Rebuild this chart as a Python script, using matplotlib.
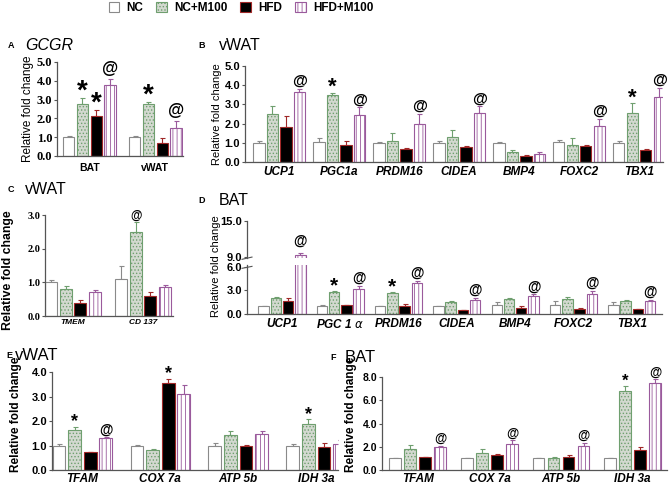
import numpy as np
import matplotlib
matplotlib.use('Agg')
import matplotlib.pyplot as plt
from matplotlib.patches import Patch

plt.rcParams['font.family'] = 'Liberation Sans'
plt.rcParams['hatch.linewidth'] = 0.6

series = ['NC', 'NC+M100', 'HFD', 'HFD+M100']
face = ['white', '#d3d9d0', 'black', 'white']
edge = ['#8a8a8a', '#6f9f6f', '#a02828', '#9a5a9c']
hatch = [None, '.....', None, '||||']

# A - GCGR
a_groups = ['BAT', 'vWAT']
a_mean = [[1.0, 1.0], [2.75, 2.75], [2.15, 0.7], [3.8, 1.5]]
a_err = [[0.05, 0.05], [0.35, 0.1], [0.3, 0.25], [0.3, 0.35]]
a_marks = [(0, 1, '*'), (0, 2, '*'), (0, 3, '@'), (1, 1, '*'), (1, 3, '@')]

# B - vWAT
b_groups = ['UCP1', 'PGC1a', 'PRDM16', 'CIDEA', 'BMP4', 'FOXC2', 'TBX1']
b_mean = [[1.0, 1.05, 1.0, 1.0, 1.0, 1.05, 1.0],
          [2.5, 3.5, 1.1, 1.3, 0.5, 0.9, 2.55],
          [1.8, 0.9, 0.7, 0.8, 0.3, 0.85, 0.6],
          [3.65, 2.45, 2.0, 2.55, 0.4, 1.85, 3.4]]
b_err = [[0.07, 0.2, 0.05, 0.1, 0.05, 0.1, 0.1],
         [0.4, 0.1, 0.4, 0.35, 0.15, 0.35, 0.5],
         [0.6, 0.2, 0.03, 0.03, 0.05, 0.03, 0.1],
         [0.15, 0.4, 0.5, 0.35, 0.1, 0.4, 0.45]]
b_marks = [(0, 3, '@'), (1, 1, '*'), (1, 3, '@'), (2, 3, '@'), (3, 3, '@'),
           (5, 3, '@'), (6, 1, '*'), (6, 3, '@')]

# C - vWAT
c_groups = ['TMEM', 'CD 137']
c_mean = [[1.0, 1.1], [0.8, 2.5], [0.4, 0.6], [0.7, 0.85]]
c_err = [[0.08, 0.38], [0.08, 0.28], [0.08, 0.1], [0.08, 0.08]]
c_marks = [(1, 1, '@')]

# D - BAT
d_groups = ['UCP1', r'PGC 1 $\alpha$', 'PRDM16', 'CIDEA', 'BMP4', 'FOXC2', 'TBX1']
d_mean = [[1.0, 1.0, 1.0, 1.0, 1.1, 1.2, 1.1],
          [2.0, 2.8, 2.7, 1.5, 1.9, 1.9, 1.6],
          [1.7, 1.1, 1.0, 0.5, 0.8, 0.7, 0.6],
          [9.3, 3.2, 3.9, 1.8, 2.3, 2.6, 1.6]]
d_err = [[0.05, 0.15, 0.05, 0.05, 0.4, 0.5, 0.4],
         [0.15, 0.1, 0.1, 0.1, 0.1, 0.3, 0.2],
         [0.3, 0.05, 0.3, 0.05, 0.2, 0.05, 0.05],
         [0.3, 0.4, 0.35, 0.3, 0.2, 0.3, 0.2]]
d_marks = [(1, 1, '*'), (1, 3, '@'), (2, 1, '*'), (2, 3, '@'), (3, 3, '@'),
           (4, 3, '@'), (5, 3, '@'), (6, 3, '@')]

# E - vWAT
e_groups = ['TFAM', 'COX 7a', 'ATP 5b', 'IDH 3a']
e_mean = [[1.0, 1.0, 1.0, 1.0], [1.65, 0.8, 1.42, 1.88],
          [0.72, 3.55, 1.0, 0.95], [1.3, 3.1, 1.48, 1.07]]
e_err = [[0.08, 0.03, 0.12, 0.08], [0.12, 0.07, 0.17, 0.2],
         [0.02, 0.18, 0.03, 0.15], [0.03, 0.35, 0.12, 0.17]]
e_marks = [(0, 1, '*'), (0, 3, '@'), (1, 2, '*'), (3, 1, '*')]

# F - BAT
f_groups = ['TFAM', 'COX 7a', 'ATP 5b', 'IDH 3a']
f_mean = [[1.0, 1.0, 1.0, 1.0], [1.8, 1.5, 1.0, 6.8],
          [1.1, 1.3, 1.15, 1.7], [1.95, 2.2, 2.05, 7.5]]
f_err = [[0.03, 0.05, 0.03, 0.03], [0.35, 0.3, 0.08, 0.45],
         [0.03, 0.08, 0.1, 0.3], [0.15, 0.35, 0.3, 0.3]]
f_marks = [(0, 3, '@'), (1, 3, '@'), (2, 3, '@'), (3, 1, '*'), (3, 3, '@')]

fig = plt.figure(figsize=(6.69, 4.86), dpi=100)


def px_axes(x0, x1, y0, y1):
    return fig.add_axes([x0 / 669, 1 - y1 / 486, (x1 - x0) / 669, (y1 - y0) / 486])


def style(ax, ticks, serif=False, tsize=8):
    for s in ['top', 'right']:
        ax.spines[s].set_visible(False)
    for s in ['left', 'bottom']:
        ax.spines[s].set_color('#555555')
        ax.spines[s].set_linewidth(0.9)
    ax.set_yticks(ticks)
    ax.set_yticklabels(['%.1f' % t for t in ticks])
    ax.tick_params(axis='y', length=2.5, width=0.8, color='#555555', pad=1)
    ax.tick_params(axis='x', length=0, pad=2)
    for lab in ax.get_yticklabels():
        lab.set_fontsize(tsize)
        lab.set_fontweight('bold')
        if serif:
            lab.set_family('Liberation Serif')


def bars(ax, means, errs, w, step):
    x = np.arange(len(means[0]))
    for i in range(4):
        pos = x + (i - 1.5) * step
        ax.bar(pos, means[i], w, facecolor=face[i], edgecolor=edge[i],
               hatch=hatch[i], lw=0.8, zorder=2)
        ax.errorbar(pos, means[i], yerr=[np.zeros(len(x)), errs[i]], fmt='none',
                    ecolor=edge[i], elinewidth=0.8, capsize=1.8, capthick=0.8, zorder=1)
    return x


def marks(ax, means, errs, step, mk, star=12, at=10, spad=0.0, apad=0.0):
    for g, s, sym in mk:
        top = means[s][g] + errs[s][g]
        if sym == '*':
            ax.text(g + (s - 1.5) * step, top + spad, '*', ha='center', va='bottom',
                    fontsize=star, fontweight='bold', color='black')
        else:
            ax.text(g + (s - 1.5) * step, top + apad, '@', ha='center', va='bottom',
                    fontsize=at, fontweight='bold', color='black')


def xlabels(ax, x, labels, size=8.5, italic=True, pad=2):
    ax.set_xticks(x)
    ax.set_xticklabels(labels, fontsize=size, fontweight='bold',
                       fontstyle='italic' if italic else 'normal')
    ax.tick_params(axis='x', pad=pad)


def title(x, y, letter, text, tx, italic=False, size=11.5):
    fig.text(x / 669, 1 - y / 486, letter, fontsize=6.5, fontweight='bold', va='center')
    fig.text(tx / 669, 1 - y / 486, text, fontsize=size, va='center',
             fontstyle='italic' if italic else 'normal')


# Panel A
ax = px_axes(57, 183, 62, 156)
x = bars(ax, a_mean, a_err, 0.17, 0.21)
marks(ax, a_mean, a_err, 0.21, a_marks, star=20, at=12, spad=-0.35, apad=0.15)
ax.set_xlim(-0.49, 1.42)
ax.set_ylim(0, 5)
style(ax, [0, 1, 2, 3, 4, 5], serif=True, tsize=9)
xlabels(ax, x, a_groups, size=7.5, italic=False, pad=5)
ax.set_ylabel('Relative fold change', fontsize=8.5, labelpad=2)
title(8, 45, 'A', 'GCGR', 25, italic=True)

# Panel B
ax = px_axes(245, 663, 66, 162)
x = bars(ax, b_mean, b_err, 0.19, 0.225)
marks(ax, b_mean, b_err, 0.225, b_marks, star=16, at=11, spad=-0.25, apad=0.05)
ax.set_xlim(-0.57, 6.4)
ax.set_ylim(0, 5)
style(ax, [0, 1, 2, 3, 4, 5])
xlabels(ax, x, b_groups, pad=3)
ax.set_ylabel('Relative fold change', fontsize=8, labelpad=2)
title(198, 45, 'B', 'vWAT', 219)

# Panel C
ax = px_axes(45, 173, 215, 316)
x = bars(ax, c_mean, c_err, 0.17, 0.21)
marks(ax, c_mean, c_err, 0.21, c_marks, at=8.5, apad=0.02)
ax.set_xlim(-0.4, 1.43)
ax.set_ylim(0, 3)
style(ax, [0, 1, 2, 3], serif=True, tsize=7.5)
xlabels(ax, x, c_groups, size=6)
ax.set_ylabel('Relative fold change', fontsize=8.8, fontweight='bold')
ax.yaxis.set_label_coords(-0.245, 0.45)
title(8, 190, 'C', 'vWAT', 25)

# Panel D (broken axis)
lo = px_axes(247, 662, 265.4, 314)
hi = px_axes(247, 662, 221, 258.2)
for a in (lo, hi):
    bars(a, d_mean, d_err, 0.18, 0.21)
    a.set_xlim(-0.6, 6.52)
x = np.arange(len(d_groups))
lo.set_ylim(0, 6.2)
hi.set_ylim(8.8, 15)
style(lo, [0, 3, 6])
style(hi, [9, 15])
hi.spines['bottom'].set_visible(False)
hi.set_xticks([])
xlabels(lo, x, d_groups, pad=3)
marks(lo, d_mean, d_err, 0.21, [m for m in d_marks if m[0] != 0], star=15, at=10,
      spad=-0.5, apad=0.15)
marks(hi, d_mean, d_err, 0.21, [(0, 3, '@')], at=10, apad=0.9)
hi.plot([-0.012, 0.012], [-0.03, 0.03], transform=hi.transAxes,
        color='#555555', lw=0.8, clip_on=False)
lo.plot([-0.012, 0.012], [0.94, 0.98], transform=lo.transAxes,
        color='#555555', lw=0.8, clip_on=False)
fig.text(216 / 669, 1 - 266 / 486, 'Relative fold change', rotation=90, fontsize=8,
         ha='center', va='center')
title(198, 200, 'D', 'BAT', 219)

# Panel E
ax = px_axes(52, 338, 372, 470)
x = bars(ax, e_mean, e_err, 0.165, 0.2)
marks(ax, e_mean, e_err, 0.2, e_marks, star=13, at=10, spad=-0.15, apad=0.02)
ax.set_xlim(-0.39, 3.28)
ax.set_ylim(0, 4)
style(ax, [0, 1, 2, 3, 4])
xlabels(ax, x, e_groups)
ax.set_ylabel('Relative fold change', fontsize=8.5, fontweight='bold')
ax.yaxis.set_label_coords(-0.105, 0.57)
title(6, 355, 'E', 'vWAT', 15, size=12)

# Panel F
ax = px_axes(382, 667, 377, 470)
x = bars(ax, f_mean, f_err, 0.165, 0.21)
marks(ax, f_mean, f_err, 0.21, f_marks, star=12, at=9, spad=-0.3, apad=0.05)
ax.set_xlim(-0.5, 3.48)
ax.set_ylim(0, 8)
style(ax, [0, 2, 4, 6, 8], tsize=7.5)
xlabels(ax, x, f_groups)
ax.set_ylabel('Relative fold change', fontsize=8.5, fontweight='bold')
ax.yaxis.set_label_coords(-0.088, 0.6)
title(330, 357, 'F', 'BAT', 345, size=12)

# legend
handles = [Patch(facecolor=face[i], edgecolor=edge[i], hatch=hatch[i], lw=0.8) for i in range(4)]
fig.legend(handles, series, loc='center', bbox_to_anchor=(241 / 669, 1 - 8 / 486), ncol=4,
           frameon=False, prop={'size': 8.5, 'weight': 'bold'}, handlelength=0.9,
           handleheight=0.9, columnspacing=1.1, handletextpad=0.6)

fig.savefig('out.png', dpi=100)
